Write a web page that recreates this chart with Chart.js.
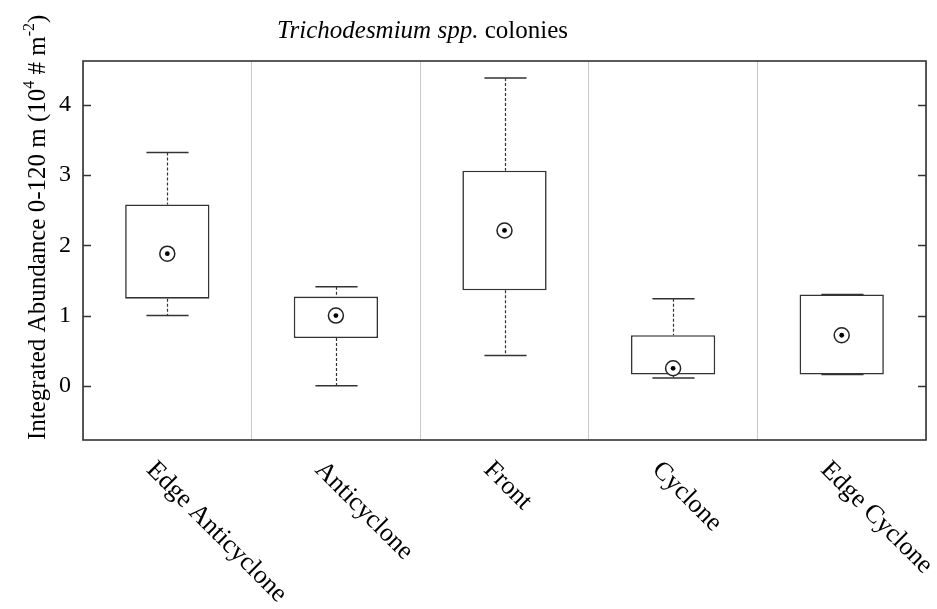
<!DOCTYPE html>
<html>
<head>
<meta charset="utf-8">
<script src="https://cdn.jsdelivr.net/npm/chart.js@4.4.1/dist/chart.umd.min.js"></script>
<style>
  body { margin: 0; background: #fff; }
  canvas { display: block; }
</style>
</head>
<body>
<canvas id="chart" width="937" height="609"></canvas>
<script>
// Trichodesmium colonies, integrated abundance per region (10^4 # m^-2)
var regions = ['Edge Anticyclone', 'Anticyclone', 'Front', 'Cyclone', 'Edge Cyclone'];
var whiskerLow  = [1.00, 0.00, 0.43, 0.11, 0.16];
var boxLow      = [1.24, 0.68, 1.36, 0.16, 0.16];
var boxHigh     = [2.58, 1.27, 3.06, 0.72, 1.30];
var whiskerHigh = [3.32, 1.41, 4.38, 1.24, 1.30];
var means       = [1.88, 1.00, 2.21, 0.25, 0.72];
var yTicks = [0, 1, 2, 3, 4];

var serif = "'Liberation Serif', 'Times New Roman', serif";
var ink = '#333';

var boxExtras = {
  id: 'boxExtras',
  beforeDatasetsDraw: function(chart) {
    var ctx = chart.ctx;
    var xs = chart.scales.x, ys = chart.scales.y;
    var cap = xs.width / regions.length * 0.125;
    ctx.save();
    ctx.strokeStyle = ink;
    for (var i = 0; i < regions.length; i++) {
      var x = Math.round(xs.getPixelForValue(i)) + 0.5;
      var yHi = ys.getPixelForValue(whiskerHigh[i]);
      var yLo = ys.getPixelForValue(whiskerLow[i]);
      ctx.lineWidth = 1.2;
      ctx.setLineDash([3, 2]);
      ctx.beginPath();
      ctx.moveTo(x, yHi); ctx.lineTo(x, ys.getPixelForValue(boxHigh[i]));
      ctx.moveTo(x, ys.getPixelForValue(boxLow[i])); ctx.lineTo(x, yLo);
      ctx.stroke();
      ctx.setLineDash([]);
      ctx.lineWidth = 1.5;
      ctx.beginPath();
      ctx.moveTo(x - cap, yHi); ctx.lineTo(x + cap, yHi);
      ctx.moveTo(x - cap, yLo); ctx.lineTo(x + cap, yLo);
      ctx.stroke();
    }
    ctx.restore();
  },
  afterDraw: function(chart) {
    var ctx = chart.ctx;
    var a = chart.chartArea;
    var xs = chart.scales.x, ys = chart.scales.y;
    ctx.save();

    // frame + inward ticks on both sides
    ctx.strokeStyle = ink;
    ctx.lineWidth = 1.6;
    ctx.strokeRect(a.left, a.top, a.right - a.left, a.bottom - a.top);
    ctx.lineWidth = 1.3;
    ctx.beginPath();
    yTicks.forEach(function(v) {
      var y = Math.round(ys.getPixelForValue(v)) + 0.5;
      ctx.moveTo(a.left, y); ctx.lineTo(a.left + 8, y);
      ctx.moveTo(a.right - 8, y); ctx.lineTo(a.right, y);
    });
    ctx.stroke();

    ctx.fillStyle = '#000';
    ctx.textBaseline = 'alphabetic';
    ctx.textAlign = 'left';

    // title, part italic
    ctx.font = 'italic 25px ' + serif;
    var t1 = 'Trichodesmium spp.';
    ctx.fillText(t1, 277, 38);
    var w1 = ctx.measureText(t1).width;
    ctx.font = '25px ' + serif;
    ctx.fillText(' colonies', 277 + w1, 38);

    // y axis title with superscripts
    var parts = [
      { t: 'Integrated Abundance 0-120 m (10' },
      { t: '4', sup: true },
      { t: ' # m' },
      { t: '-2', sup: true },
      { t: ')' }
    ];
    ctx.save();
    ctx.translate(45, 440);
    ctx.rotate(-Math.PI / 2);
    var cx = 0;
    parts.forEach(function(p) {
      ctx.font = (p.sup ? '16px ' : '25px ') + serif;
      ctx.fillText(p.t, cx, p.sup ? -11 : 0);
      cx += ctx.measureText(p.t).width;
    });
    ctx.restore();

    // rotated category labels
    ctx.font = '26px ' + serif;
    ctx.textBaseline = 'middle';
    regions.forEach(function(name, i) {
      var x = xs.getPixelForValue(i);
      ctx.save();
      ctx.translate(x - 17, a.bottom + 26);
      ctx.rotate(Math.PI / 4);
      ctx.fillText(name, 0, 0);
      ctx.restore();
    });

    ctx.restore();
  }
};

new Chart(document.getElementById('chart'), {
  type: 'bar',
  data: {
    labels: regions,
    datasets: [
      {
        label: 'IQR',
        data: boxLow.map(function(lo, i) { return [lo, boxHigh[i]]; }),
        backgroundColor: '#fff',
        borderColor: ink,
        borderWidth: 1.6,
        borderSkipped: false,
        barPercentage: 0.5,
        categoryPercentage: 1,
        order: 3
      },
      {
        type: 'line',
        label: 'Mean',
        data: means,
        showLine: false,
        pointRadius: 7.5,
        pointHoverRadius: 7.5,
        pointBorderWidth: 1.5,
        pointBorderColor: '#222',
        pointBackgroundColor: '#fff',
        order: 2
      },
      {
        type: 'line',
        label: 'Mean dot',
        data: means,
        showLine: false,
        pointRadius: 2.4,
        pointHoverRadius: 2.4,
        pointBorderWidth: 0,
        pointBackgroundColor: '#000',
        order: 1
      }
    ]
  },
  options: {
    responsive: false,
    animation: false,
    events: [],
    layout: { padding: { top: 61, right: 11, left: 0, bottom: 0 } },
    plugins: {
      legend: { display: false },
      tooltip: { enabled: false },
      title: { display: false }
    },
    scales: {
      x: {
        grid: { color: '#c8c8c8', lineWidth: 1, offset: true, drawTicks: false },
        border: { display: false },
        ticks: { display: false },
        afterFit: function(s) { s.height = 169; }
      },
      y: {
        min: -0.77,
        max: 4.62,
        grid: { display: false, drawTicks: false },
        border: { display: false },
        ticks: {
          color: '#000',
          padding: 12,
          font: { family: serif, size: 24 }
        },
        afterBuildTicks: function(s) {
          s.ticks = yTicks.map(function(v) { return { value: v }; });
        },
        afterFit: function(s) { s.width = 83; }
      }
    }
  },
  plugins: [boxExtras]
});
</script>
</body>
</html>
